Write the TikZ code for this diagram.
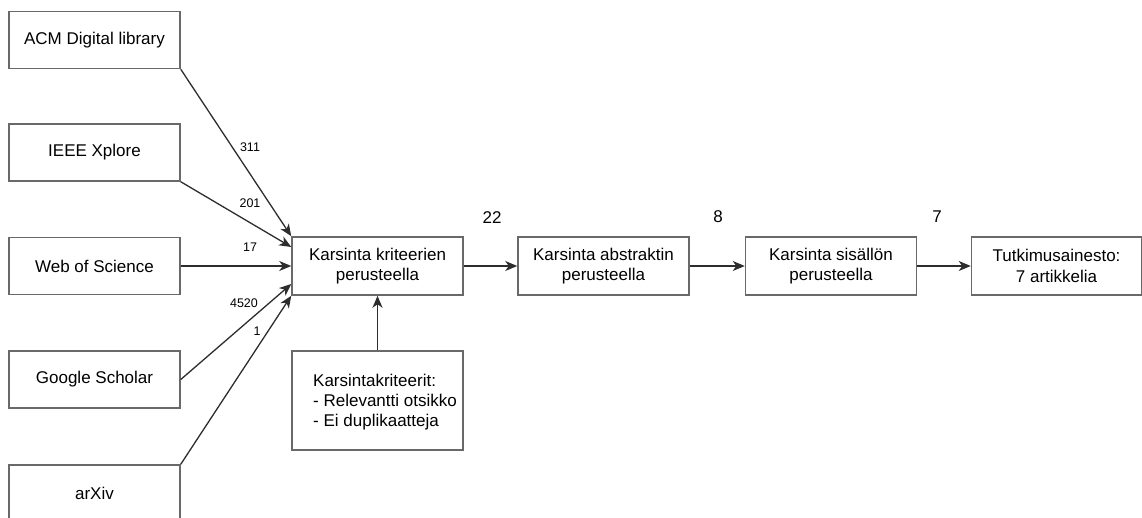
\documentclass[tikz,border=0pt]{standalone}
\usepackage{fontspec}
\setmainfont{Liberation Sans}
\usetikzlibrary{arrows.meta,calc}
\definecolor{ln}{RGB}{45,45,45}
\definecolor{bx}{RGB}{105,105,105}
\tikzset{
  box/.style={draw=bx, line width=1.5pt, fill=white, minimum width=171pt, minimum height=57pt, inner sep=2pt, align=center, font=\fontsize{17}{20.7}\selectfont},
  conn/.style={draw=ln, line width=1.3pt, -{Stealth[length=12pt,width=10pt,inset=3.5pt]}},
  elab/.style={font=\fontsize{12.5}{14}\selectfont, inner sep=0pt},
  nlab/.style={font=\fontsize{17}{20}\selectfont, inner sep=0pt}
}
\begin{document}
\begin{tikzpicture}[x=1pt,y=-1pt]
\useasboundingbox (0,0) rectangle (1142,517);
% source boxes
\node[box] (acm) at (94.5,40) {ACM Digital library};
\node[box] (ieee) at (94.5,152.5) {IEEE Xplore};
\node[box] (wos) at (94.5,266) {Web of Science};
\node[box] (gs) at (94.5,379.5) {Google Scholar};
\node[box] (arx) at (94.5,493.5) {arXiv};
% main chain
\node[box, minimum height=58pt] (main) at (377.5,266) {Karsinta kriteerien\\perusteella};
\node[box, minimum height=58pt] (abs) at (603.5,266) {Karsinta abstraktin\\perusteella};
\node[box, minimum height=58pt] (sis) at (831,266) {Karsinta sisällön\\perusteella};
\node[box, minimum height=58pt, minimum width=170pt] (res) at (1056.5,266) {Tutkimusainesto:\\7 artikkelia};
% criteria box
\node[box, minimum height=99pt] (crit) at (377.5,400.5) {};
\node[align=left, inner sep=0pt, font=\fontsize{17}{20.2}\selectfont] (crittext) at (385,402) {Karsintakriteerit:\\- Relevantti otsikko\\- Ei duplikaatteja};
% connectors
\draw[conn] (acm.south east) -- (main.north west);
\draw[conn] (ieee.south east) -- ([yshift=19pt]main.west);
\draw[conn] (wos.east) -- (main.west);
\draw[conn] (gs.east) -- ([yshift=-18pt]main.west);
\draw[conn] (arx.north east) -- (main.south west);
\draw[conn] (crit.north) -- (main.south);
\draw[conn] (main.east) -- (abs.west);
\draw[conn] (abs.east) -- (sis.west);
\draw[conn] (sis.east) -- (res.west);
% labels
\node[elab] (l311) at (250,147) {311};
\node[elab] (l201) at (250,203) {201};
\node[elab] (l17) at (250,247) {17};
\node[elab] (l4520) at (244,303) {4520};
\node[elab] (l1) at (257,331) {1};
\node[nlab] (n22) at (492,218) {22};
\node[nlab] (n8) at (718,217) {8};
\node[nlab] (n7) at (937,217) {7};
\end{tikzpicture}
\end{document}
